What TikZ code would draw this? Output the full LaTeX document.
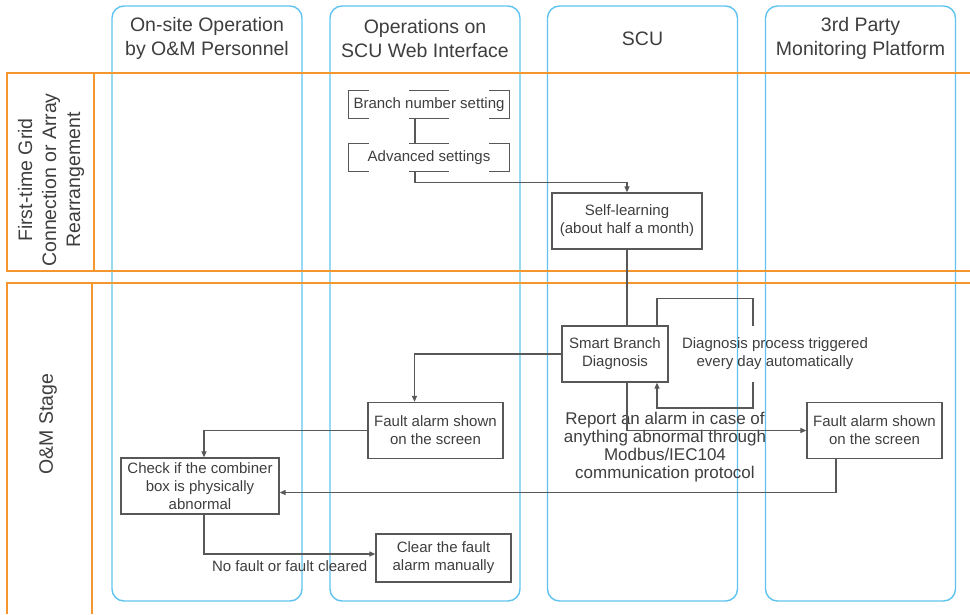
\documentclass[tikz,border=0pt]{standalone}
\usepackage{fontspec}
\setmainfont{Liberation Sans}
\usetikzlibrary{arrows.meta,positioning,calc}

\definecolor{laneblue}{RGB}{95,195,240}
\definecolor{stageorange}{RGB}{242,150,45}
\definecolor{inkgray}{RGB}{88,88,88}
\definecolor{textgray}{RGB}{62,62,62}

\begin{document}
\begin{tikzpicture}[x=1pt, y=-1pt,
  lane/.style={draw=laneblue, line width=1.4pt, rounded corners=12pt, minimum width=190pt, minimum height=595pt, inner sep=0pt},
  head/.style={align=center, text=textgray, font=\fontsize{19.5}{24}\selectfont, minimum height=48pt, inner sep=0pt},
  band/.style={draw=stageorange, line width=1.4pt},
  bandlbl/.style={align=center, rotate=90, text=textgray, font=\fontsize{19.5}{24}\selectfont, inner sep=0pt},
  plain/.style={align=center, text=textgray, font=\fontsize{15}{18}\selectfont, inner sep=0pt},
  box/.style={plain, draw=inkgray, line width=1.3pt},
  link/.style={draw=inkgray, line width=1.2pt},
  bracket/.style={draw=inkgray, line width=1.3pt},
  arr/.style={link, -{Triangle[length=6pt, width=5pt]}}
]
\useasboundingbox (0,0) rectangle (970,614);

\node[lane] (onsite) at (207,303.5) {};
\node[lane] (web) at (425,303.5) {};
\node[lane] (scu) at (642.5,303.5) {};
\node[lane] (third) at (860.5,303.5) {};

\node[head, below=9pt of onsite.north] (onsitehd) {On-site Operation\\by O\&M Personnel};
\node[head, below=9pt of web.north] (webhd) {Operations on\\SCU Web Interface};
\node[head, below=9pt of scu.north] (scuhd) {SCU};
\node[head, below=9pt of third.north] (thirdhd) {3rd Party\\Monitoring Platform};

\draw[band] (970,73) -| (7,271) -- (970,271);
\draw[band] (94,73) -- (94,271);
\draw[band] (970,283) -| (7,614);
\draw[band] (92,283) -- (92,614);

\node[bandlbl] (firstlbl) at (51,180) {First-time Grid\\Connection or Array\\Rearrangement};
\node[bandlbl] (omlbl) at (48,424) {O\&M Stage};

\node[plain, minimum width=160pt, minimum height=27pt] (branch) at (429,104.5) {Branch number setting};
\node[plain, minimum width=160pt, minimum height=27pt] (advanced) at (429,157.5) {Advanced settings};
\foreach \b in {branch,advanced} {
  \draw[bracket] ([xshift=20pt]\b.north west) -- (\b.north west) -- (\b.south west) -- ([xshift=20pt]\b.south west);
  \draw[bracket] ([xshift=-20pt]\b.north east) -- (\b.north east) -- (\b.south east) -- ([xshift=-20pt]\b.south east);
  \draw[bracket] ([xshift=-20pt]\b.north) -- ([xshift=20pt]\b.north);
  \draw[bracket] ([xshift=-20pt]\b.south) -- ([xshift=20pt]\b.south);
}

\node[box, minimum width=150pt, minimum height=56pt] (selflearn) at (627,221) {Self-learning\\(about half a month)};
\node[box, minimum width=106pt, minimum height=56pt] (diag) at (615,354) {Smart Branch\\Diagnosis};
\node[box, minimum width=135pt, minimum height=56pt] (webalarm) at (435.5,430.5) {Fault alarm shown\\on the screen};
\node[box, minimum width=135pt, minimum height=56pt] (platalarm) at (874.5,430.5) {Fault alarm shown\\on the screen};
\node[box, minimum width=158pt, minimum height=56pt] (check) at (200,486) {Check if the combiner\\box is physically\\abnormal};
\node[box, minimum width=135pt, minimum height=48pt] (clear) at (443.5,558) {Clear the fault\\alarm manually};

\node[plain] (dailylbl) at (775,354) {Diagnosis process triggered\\every day automatically};
\node[plain, font=\fontsize{17}{18}\selectfont] (reportlbl) at (665,447) {Report an alarm in case of\\anything abnormal through\\Modbus/IEC104\\communication protocol};

\coordinate (loopin) at (753,326);
\coordinate (loopout) at (753,382);

\draw[link] ([xshift=-14pt]branch.south) -- ([xshift=-14pt]advanced.north);
\draw[arr] ([xshift=-14pt]advanced.south) -- ++(0,11) -| (selflearn.north);
\draw[link] (selflearn.south) -- (selflearn.south |- diag.north);
\draw[link] ([xshift=42pt]diag.north) -- ++(0,-27) -| (loopin);
\draw[arr] (loopout) -- ++(0,26) -| ([xshift=42pt]diag.south);
\draw[arr] (diag.west) -| ([xshift=-21pt]webalarm.north);
\draw[arr] (webalarm.west) -| ([xshift=4pt]check.north);
\draw[arr] ([xshift=4pt]check.south) |- node[plain, below=6pt, pos=0.75] (nofault) {No fault or fault cleared} ([yshift=4pt]clear.west);
\draw[arr] (diag.south -| selflearn.south) |- (platalarm.west);
\draw[arr] ([xshift=-38.5pt]platalarm.south) |- ([yshift=-6.5pt]check.east);

\end{tikzpicture}
\end{document}
